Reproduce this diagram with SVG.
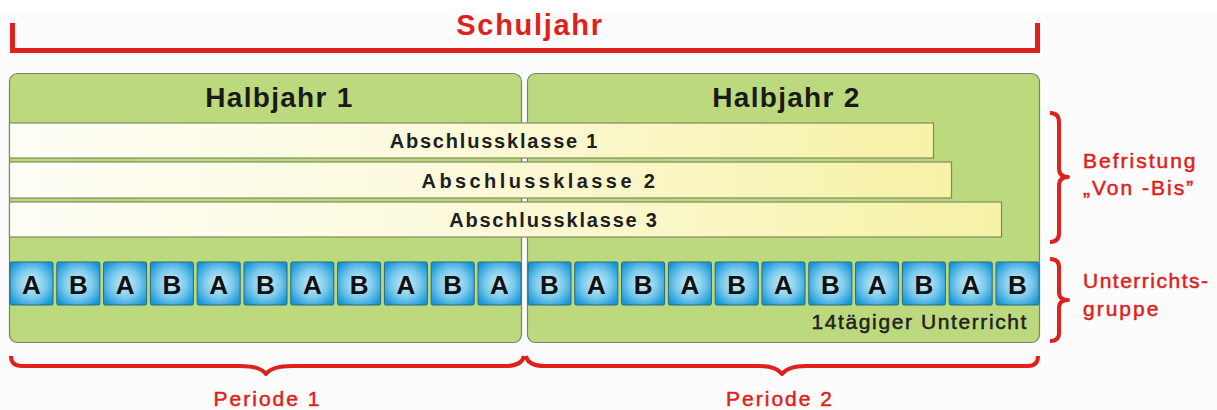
<svg xmlns="http://www.w3.org/2000/svg" width="1217" height="410" viewBox="0 0 1217 410">
<defs>
<style>
.panel{fill:#bcd97e;stroke:#76866a;stroke-width:1.2}
.bar{fill:url(#barg);stroke:#808a60;stroke-width:1.2}
.bartxt{font-family:"Liberation Sans",Arial,sans-serif;font-weight:bold;font-size:20px;letter-spacing:1.8px;fill:#1e1e1e;text-anchor:middle}
.hj{font-family:"Liberation Sans",Arial,sans-serif;font-weight:bold;font-size:28px;letter-spacing:1.3px;fill:#1a1a1a;text-anchor:middle}
.box{fill:url(#boxg);stroke:#2c6a7c;stroke-width:1}
.let{font-family:"Liberation Sans",Arial,sans-serif;font-weight:bold;font-size:26px;fill:#111;text-anchor:middle}
.red{font-family:"Liberation Sans",Arial,sans-serif;font-size:21px;letter-spacing:2px;fill:#e0201c;stroke:#e0201c;stroke-width:0.5}
.redc{text-anchor:middle}
.brace{fill:none;stroke:#e0201c;stroke-width:4;stroke-linejoin:round;stroke-linecap:butt}
.note{font-family:"Liberation Sans",Arial,sans-serif;font-size:21px;letter-spacing:1.6px;fill:#222;stroke:#222;stroke-width:0.5;text-anchor:end}
</style>
<linearGradient id="barg" x1="0" y1="0" x2="1" y2="0">
<stop offset="0" stop-color="#fefef6"/>
<stop offset="0.45" stop-color="#fcfadc"/>
<stop offset="1" stop-color="#f6f2a6"/>
</linearGradient>
<radialGradient id="boxg" cx="0.5" cy="0.5" r="0.62">
<stop offset="0" stop-color="#d2f0fa"/>
<stop offset="0.55" stop-color="#79c9ec"/>
<stop offset="1" stop-color="#1796d6"/>
</radialGradient>
</defs>
<rect x="0" y="0" width="1217" height="410" fill="#fbfcfb"/>
<rect x="0" y="0" width="1217" height="12" fill="#ffffff"/>

<g id="schuljahr">
<path d="M12.5,23 V50.5 H1037.5 V23" fill="none" stroke="#e0201c" stroke-width="5"/>
<text x="530" y="35" class="red redc" style="font-weight:bold;font-size:29px;letter-spacing:1.7px;stroke:none">Schuljahr</text>
</g>

<g id="halbjahr1">
<rect class="panel" x="9.5" y="73.5" width="512" height="269" rx="8"/>
<text x="279.5" y="107" class="hj">Halbjahr 1</text>
</g>
<g id="halbjahr2">
<rect class="panel" x="527.5" y="73.5" width="512" height="269" rx="8"/>
<text x="786.5" y="107" class="hj">Halbjahr 2</text>
</g>

<g id="abschlussklasse1">
<rect class="bar" x="9.5" y="123" width="924" height="35"/>
<text x="494.5" y="148" class="bartxt">Abschlussklasse 1</text>
</g>
<g id="abschlussklasse2">
<rect class="bar" x="9.5" y="162" width="942" height="36"/>
<text x="540" y="188" class="bartxt" style="letter-spacing:3.4px">Abschlussklasse 2</text>
</g>
<g id="abschlussklasse3">
<rect class="bar" x="9.5" y="202" width="992" height="35"/>
<text x="554" y="227" class="bartxt">Abschlussklasse 3</text>
</g>

<g id="unterricht">
<rect class="box" x="10" y="262" width="43" height="43" rx="1.5"/><text class="let" x="31.5" y="294">A</text>
<rect class="box" x="56.8" y="262" width="43" height="43" rx="1.5"/><text class="let" x="78.3" y="294">B</text>
<rect class="box" x="103.6" y="262" width="43" height="43" rx="1.5"/><text class="let" x="125.1" y="294">A</text>
<rect class="box" x="150.4" y="262" width="43" height="43" rx="1.5"/><text class="let" x="171.9" y="294">B</text>
<rect class="box" x="197.2" y="262" width="43" height="43" rx="1.5"/><text class="let" x="218.7" y="294">A</text>
<rect class="box" x="244" y="262" width="43" height="43" rx="1.5"/><text class="let" x="265.5" y="294">B</text>
<rect class="box" x="290.8" y="262" width="43" height="43" rx="1.5"/><text class="let" x="312.3" y="294">A</text>
<rect class="box" x="337.6" y="262" width="43" height="43" rx="1.5"/><text class="let" x="359.1" y="294">B</text>
<rect class="box" x="384.4" y="262" width="43" height="43" rx="1.5"/><text class="let" x="405.9" y="294">A</text>
<rect class="box" x="431.2" y="262" width="43" height="43" rx="1.5"/><text class="let" x="452.7" y="294">B</text>
<rect class="box" x="478" y="262" width="43" height="43" rx="1.5"/><text class="let" x="499.5" y="294">A</text>

<rect class="box" x="528" y="262" width="43" height="43" rx="1.5"/><text class="let" x="549.5" y="294">B</text>
<rect class="box" x="574.8" y="262" width="43" height="43" rx="1.5"/><text class="let" x="596.3" y="294">A</text>
<rect class="box" x="621.6" y="262" width="43" height="43" rx="1.5"/><text class="let" x="643.1" y="294">B</text>
<rect class="box" x="668.4" y="262" width="43" height="43" rx="1.5"/><text class="let" x="689.9" y="294">A</text>
<rect class="box" x="715.2" y="262" width="43" height="43" rx="1.5"/><text class="let" x="736.7" y="294">B</text>
<rect class="box" x="762" y="262" width="43" height="43" rx="1.5"/><text class="let" x="783.5" y="294">A</text>
<rect class="box" x="808.8" y="262" width="43" height="43" rx="1.5"/><text class="let" x="830.3" y="294">B</text>
<rect class="box" x="855.6" y="262" width="43" height="43" rx="1.5"/><text class="let" x="877.1" y="294">A</text>
<rect class="box" x="902.4" y="262" width="43" height="43" rx="1.5"/><text class="let" x="923.9" y="294">B</text>
<rect class="box" x="949.2" y="262" width="43" height="43" rx="1.5"/><text class="let" x="970.7" y="294">A</text>
<rect class="box" x="996" y="262" width="43" height="43" rx="1.5"/><text class="let" x="1017.5" y="294">B</text>
<text x="1028" y="329" class="note">14tägiger Unterricht</text>
</g>

<g id="connectors">
<path class="brace" d="M1050,113 Q1059,113 1059,122 L1059,168 Q1059,177 1068,177 Q1059,177 1059,186 L1059,233 Q1059,242 1050,242"/>
<path class="brace" d="M1050,259 Q1059,259 1059,267 L1059,292 Q1059,300 1068,300 Q1059,300 1059,308 L1059,333 Q1059,341 1050,341"/>
<path class="brace" d="M11,356 Q11,366 22,366 L240,366 Q260,366 266,374 Q272,366 292,366 L505,366 Q522,366 524,356"/>
<path class="brace" d="M526,356 Q528,366 545,366 L758,366 Q776,366 782,374 Q788,366 806,366 L1028,366 Q1038,366 1038,356"/>
</g>

<g id="befristung">
<text x="1083" y="168" class="red">Befristung</text>
<text x="1083" y="195" class="red">„Von -Bis”</text>
</g>
<g id="unterrichtsgruppe">
<text x="1083" y="288" class="red" style="letter-spacing:1.5px">Unterrichts-</text>
<text x="1083" y="316" class="red">gruppe</text>
</g>
<g id="periode1">
<text x="267.5" y="406" class="red redc">Periode 1</text>
</g>
<g id="periode2">
<text x="780" y="406" class="red redc">Periode 2</text>
</g>
</svg>
